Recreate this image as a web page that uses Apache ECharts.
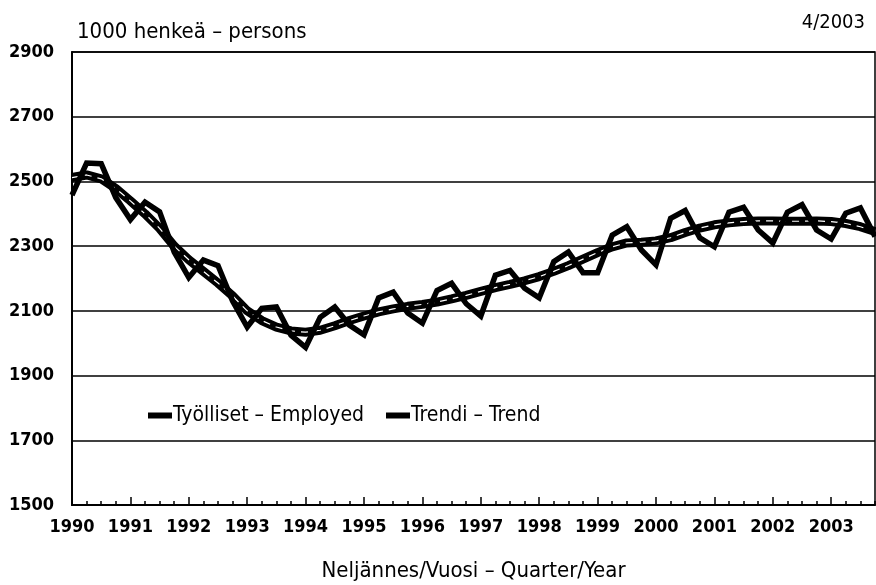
<!DOCTYPE html>
<html>
<head>
<meta charset="utf-8">
<script src="https://cdn.jsdelivr.net/npm/echarts@6/dist/echarts.min.js"></script>
<style>
html,body{margin:0;padding:0;background:#fff;}
#chart{width:876px;height:585px;}
</style>
</head>
<body>
<div id="chart"></div>
<script>
var startYear = 1990;
var yearLabels = ['1990','1991','1992','1993','1994','1995','1996','1997','1998','1999','2000','2001','2002','2003'];
var yTicks = [1500,1700,1900,2100,2300,2500,2700,2900];
// quarterly values, 1990Q1 .. 2003Q4
var employed = [
  2458,2557,2555,2450, 2382,2436,2406,2282,
  2203,2257,2240,2130, 2050,2108,2112,2025,
  1987,2080,2112,2056, 2026,2140,2158,2093,
  2062,2163,2185,2122, 2084,2210,2225,2170,
  2140,2252,2282,2218, 2218,2334,2360,2288,
  2242,2386,2410,2326, 2298,2405,2420,2350,
  2310,2405,2428,2350, 2322,2402,2418,2330
];
var trend = [
  2512,2520,2508,2478, 2440,2400,2355,2300,
  2258,2222,2186,2146, 2100,2070,2050,2038,
  2034,2040,2054,2070, 2084,2097,2106,2114,
  2120,2127,2137,2148, 2160,2172,2182,2193,
  2206,2222,2240,2260, 2280,2298,2310,2312,
  2316,2326,2342,2356, 2366,2372,2376,2378,
  2378,2377,2377,2378, 2376,2370,2360,2345
];

var FONT = '"Liberation Sans Narrow","DejaVu Sans Condensed","Roboto Condensed",sans-serif';
function toXY(arr){ return arr.map(function(v,i){ return [startYear + i/4, v]; }); }

var chart = echarts.init(document.getElementById('chart'), null, {renderer:'canvas'});
chart.setOption({
  animation:false,
  backgroundColor:'#fff',
  title:[
    {text:'1000 henkeä – persons', left:72, top:16, textStyle:{fontFamily:FONT, fontSize:22, fontWeight:'normal', color:'#000'}},
    {text:'4/2003', right:6, top:8, textStyle:{fontFamily:FONT, fontSize:20, fontWeight:'normal', color:'#000'}}
  ],
  legend:{
    left:143, top:400, icon:'rect', itemWidth:24, itemHeight:6, itemGap:22,
    data:['Työlliset – Employed','Trendi – Trend'],
    textStyle:{fontFamily:FONT, fontSize:21, color:'#000', padding:[0,0,0,-4]}
  },
  grid:{left:72, right:1, top:52, bottom:80, show:true, borderColor:'#000', borderWidth:1.5,
        backgroundColor:'transparent', containLabel:false, outerBoundsMode:'none'},
  xAxis:[{
    type:'value', min:startYear, max:startYear + (employed.length-1)/4, interval:1,
    name:'Neljännes/Vuosi – Quarter/Year', nameLocation:'middle', nameGap:55,
    nameTextStyle:{fontFamily:FONT, fontSize:22, color:'#000'},
    axisLine:{show:true, lineStyle:{color:'#000', width:2}},
    axisTick:{show:true, inside:true, length:8, lineStyle:{color:'#000', width:1.5}},
    splitLine:{show:false},
    axisLabel:{showMaxLabel:false, margin:13, fontFamily:FONT, fontSize:18, fontWeight:'bold', color:'#000',
      formatter:function(v){ var i = Math.round(v - startYear); return (Math.abs(v - startYear - i) < 1e-6 && yearLabels[i]) ? yearLabels[i] : ''; }}
  },{
    type:'value', min:0, max:employed.length-1, interval:1, position:'bottom',
    axisLine:{show:false}, axisLabel:{show:false}, splitLine:{show:false},
    axisTick:{show:true, inside:true, length:4, lineStyle:{color:'#000', width:1.5}}
  }],
  yAxis:{
    type:'value', min:yTicks[0], max:yTicks[yTicks.length-1], interval:200,
    axisLine:{show:true, lineStyle:{color:'#000', width:2}},
    axisTick:{show:false},
    splitLine:{show:true, lineStyle:{color:'#000', width:1.5}},
    axisLabel:{margin:18, fontFamily:FONT, fontSize:18, fontWeight:'bold', color:'#000',
      formatter:function(v){ return String(v); }}
  },
  series:[
    {name:'Trendi – Trend', type:'line', data:toXY(trend), showSymbol:false, symbol:'none', smooth:false,
      lineStyle:{color:'#000', width:9}, itemStyle:{color:'#000'}, z:2},
    {name:'trend-core', type:'line', data:toXY(trend), showSymbol:false, symbol:'none',
      lineStyle:{color:'#fff', width:1.2, type:[7,6]}, z:3, silent:true},
    {name:'Työlliset – Employed', type:'line', data:toXY(employed), showSymbol:false, symbol:'none',
      lineStyle:{color:'#000', width:5.5, join:'miter'}, itemStyle:{color:'#000'}, z:4}
  ]
});
</script>
</body>
</html>
